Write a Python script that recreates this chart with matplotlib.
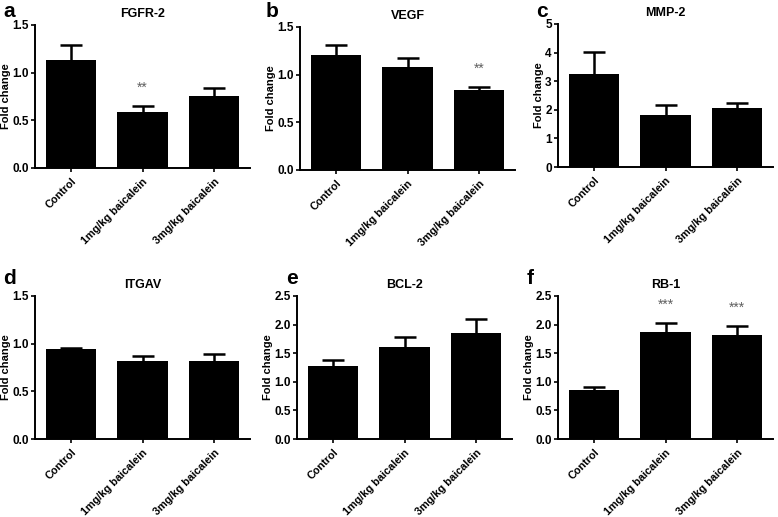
import matplotlib
matplotlib.use("Agg")
import matplotlib.pyplot as plt
import numpy as np

plt.rcParams['font.family'] = ['Liberation Sans', 'DejaVu Sans']
plt.rcParams['font.weight'] = 'bold'

# Gruppen (x-Achse)
gruppen = ["Control", "1mg/kg baicalein", "3mg/kg baicalein"]

# Mittelwerte und Fehler (SEM) je Gen
fgfr2_mw = [1.13, 0.59, 0.76]
fgfr2_sem = [0.16, 0.06, 0.075]
vegf_mw = [1.21, 1.085, 0.835]
vegf_sem = [0.10, 0.085, 0.04]
mmp2_mw = [3.25, 1.82, 2.06]
mmp2_sem = [0.78, 0.35, 0.17]
itgav_mw = [0.94, 0.815, 0.82]
itgav_sem = [0.015, 0.055, 0.068]
bcl2_mw = [1.275, 1.60, 1.86]
bcl2_sem = [0.10, 0.18, 0.23]
rb1_mw = [0.857, 1.87, 1.82]
rb1_sem = [0.06, 0.16, 0.155]

# Signifikanzsterne
fgfr2_sterne = ["", "**", ""]
vegf_sterne = ["", "", "**"]
rb1_sterne = ["", "***", "***"]
keine_sterne = ["", "", ""]

# Achsenbereiche und Ticks
yticks_15 = [0.0, 0.5, 1.0, 1.5]
yticks_5 = [0, 1, 2, 3, 4, 5]
yticks_25 = [0.0, 0.5, 1.0, 1.5, 2.0, 2.5]

panels = [
    ("a", "FGFR-2", fgfr2_mw, fgfr2_sem, fgfr2_sterne, yticks_15, "{:.1f}"),
    ("b", "VEGF", vegf_mw, vegf_sem, vegf_sterne, yticks_15, "{:.1f}"),
    ("c", "MMP-2", mmp2_mw, mmp2_sem, keine_sterne, yticks_5, "{:.0f}"),
    ("d", "ITGAV", itgav_mw, itgav_sem, keine_sterne, yticks_15, "{:.1f}"),
    ("e", "BCL-2", bcl2_mw, bcl2_sem, keine_sterne, yticks_25, "{:.1f}"),
    ("f", "RB-1", rb1_mw, rb1_sem, rb1_sterne, yticks_25, "{:.1f}"),
]

# Position der Achsen in Pixeln (links, oben) – Abbildung 778x517
W, H = 778, 517
ax_w, ax_h = 215, 143
positionen = [(35, 25), (300, 27), (558, 24), (35, 296), (297, 296), (558, 296)]
buchstaben_pos = [(3, 17), (266, 17), (536, 17), (3, 284), (286, 284), (527, 284)]

fig = plt.figure(figsize=(W / 100, H / 100), dpi=100)

for (buchst, titel, mw, sem, sterne, yt, fmt), (px, py), (bx, by) in zip(panels, positionen, buchstaben_pos):
    ax = fig.add_axes([px / W, 1 - (py + ax_h) / H, ax_w / W, ax_h / H])
    x = np.arange(len(gruppen))
    ax.bar(x, mw, width=0.7, color='black', zorder=2)
    eb = ax.errorbar(x, mw, yerr=[np.zeros(len(mw)), sem], fmt='none', ecolor='black',
                     elinewidth=1.8, capsize=8, capthick=1.8, zorder=1)
    # untere Kappe ausblenden
    eb[1][0].set_visible(False)
    for xi, m, s, st in zip(x, mw, sem, sterne):
        if st:
            ax.annotate(st, (xi, m + s), xytext=(0, 8), textcoords='offset points',
                        ha='center', va='bottom', fontsize=10, color='#606060', fontweight='normal')
    ax.set_xlim(-0.5, 2.5)
    ax.set_ylim(yt[0], yt[-1])
    ax.set_yticks(yt)
    ax.set_yticklabels([fmt.format(v) for v in yt])
    ax.set_xticks(x)
    ax.set_xticklabels(gruppen, rotation=45, ha='right', rotation_mode='anchor')
    ax.spines['top'].set_visible(False)
    ax.spines['right'].set_visible(False)
    ax.spines['left'].set_linewidth(1.4)
    ax.spines['bottom'].set_linewidth(1.4)
    ax.tick_params(axis='both', direction='out', length=3, width=1.2, pad=1.5)
    ax.tick_params(axis='y', labelsize=8.5)
    ax.tick_params(axis='x', labelsize=7.8, pad=3)
    ax.set_ylabel("Fold change", fontsize=8, fontweight='bold', labelpad=1)
    ax.set_title(titel, fontsize=9, fontweight='bold', pad=6)
    fig.text(bx / W, 1 - by / H, buchst, fontsize=15, fontweight='bold', ha='left', va='baseline')

plt.savefig('out.png', dpi=100)
